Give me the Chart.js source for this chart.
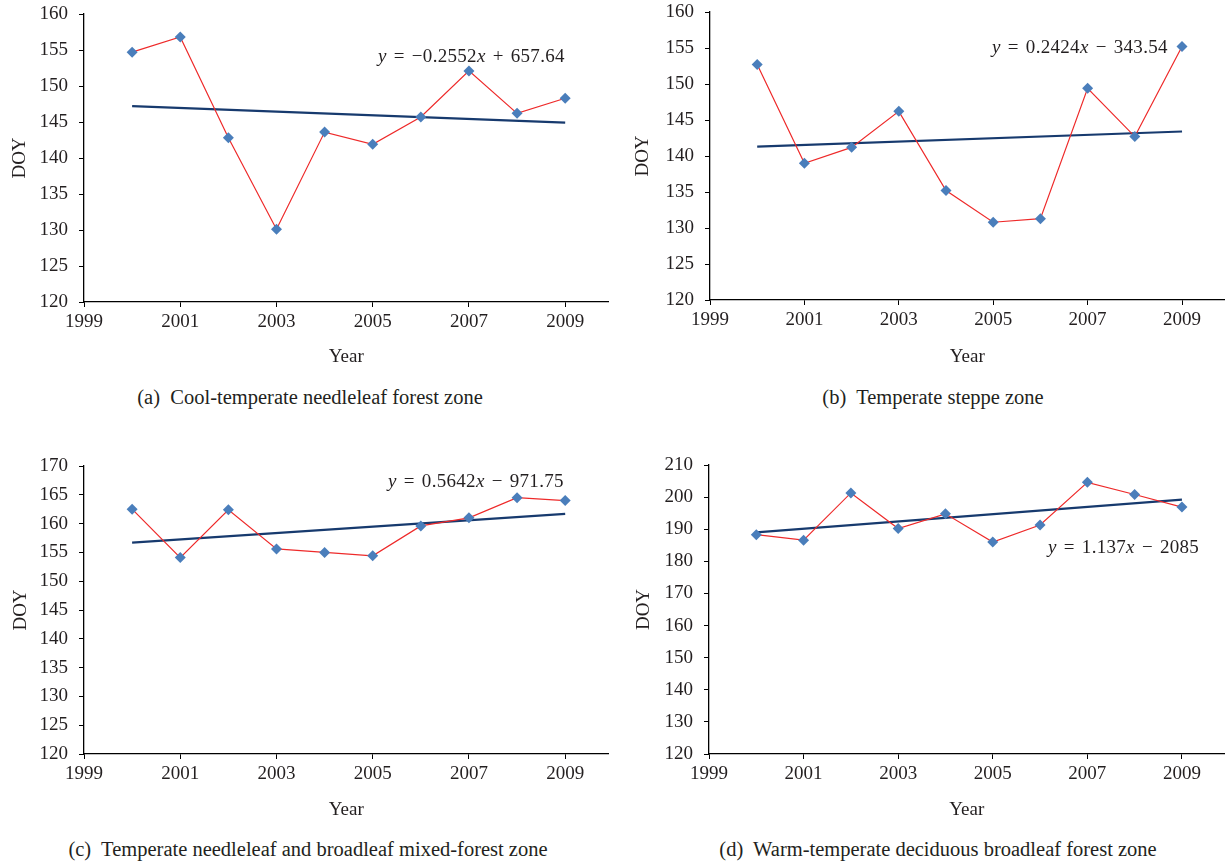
<!DOCTYPE html>
<html>
<head>
<meta charset="utf-8">
<title>DOY trends by vegetation zone</title>
<script src="https://cdn.jsdelivr.net/npm/chart.js@4.4.1/dist/chart.umd.min.js"></script>
<style>
  body { margin: 0; background: #fff; }
  #page { position: relative; width: 1230px; height: 866px; overflow: hidden; font-family: "Liberation Serif", "Times New Roman", serif; color: #231f20; }
  canvas { position: absolute; }
  .eq { position: absolute; font-size: 19px; line-height: 22px; white-space: nowrap; word-spacing: 2px; letter-spacing: 0.3px; }
  .caption { position: absolute; font-size: 20.5px; line-height: 22px; white-space: nowrap; transform: translateX(-50%); }
</style>
</head>
<body>
<div id="page">
  <canvas id="chartA" width="614" height="368" style="left:0;top:0"></canvas>
  <canvas id="chartB" width="610" height="368" style="left:620px;top:0"></canvas>
  <canvas id="chartC" width="614" height="368" style="left:0;top:453px"></canvas>
  <canvas id="chartD" width="610" height="368" style="left:620px;top:453px"></canvas>

  <div class="eq" style="left:378px;top:45px"><i>y</i> = −0.2552<i>x</i> + 657.64</div>
  <div class="eq" style="left:992px;top:36px"><i>y</i> = 0.2424<i>x</i> − 343.54</div>
  <div class="eq" style="left:388px;top:470px"><i>y</i> = 0.5642<i>x</i> − 971.75</div>
  <div class="eq" style="left:1048px;top:536px"><i>y</i> = 1.137<i>x</i> − 2085</div>

  <div class="caption" style="left:310px;top:386px">(a)&nbsp; Cool-temperate needleleaf forest zone</div>
  <div class="caption" style="left:933px;top:386px">(b)&nbsp; Temperate steppe zone</div>
  <div class="caption" style="left:308px;top:838px">(c)&nbsp; Temperate needleleaf and broadleaf mixed-forest zone</div>
  <div class="caption" style="left:938px;top:838px">(d)&nbsp; Warm-temperate deciduous broadleaf forest zone</div>
</div>

<script>
const years = [2000, 2001, 2002, 2003, 2004, 2005, 2006, 2007, 2008, 2009];

const doyA = [154.7, 156.8, 142.8, 130.1, 143.6, 141.9, 145.7, 152.1, 146.2, 148.3];
const doyB = [152.7, 139.0, 141.2, 146.2, 135.2, 130.8, 131.3, 149.4, 142.7, 155.2];
const doyC = [162.5, 154.1, 162.4, 155.6, 155.0, 154.4, 159.6, 161.0, 164.5, 164.0];
const doyD = [188.3, 186.6, 201.3, 190.2, 194.8, 186.0, 191.3, 204.6, 200.8, 196.9];

// trend line end points (2000 and 2009)
const trendYears = [2000, 2009];
const trendA = [147.2, 144.9];
const trendB = [141.3, 143.4];
const trendC = [156.7, 161.7];
const trendD = [189.0, 199.2];

const xTicks = [1999, 2001, 2003, 2005, 2007, 2009];
const yTicks160 = [120, 125, 130, 135, 140, 145, 150, 155, 160];
const yTicks170 = [120, 125, 130, 135, 140, 145, 150, 155, 160, 165, 170];
const yTicks210 = [120, 130, 140, 150, 160, 170, 180, 190, 200, 210];

const textColor = "#231f20";
const fontFamily = "'Liberation Serif', 'Times New Roman', serif";

function toPoints(xs, ys) {
  return xs.map((x, i) => ({ x: x, y: ys[i] }));
}

function makeChart(id, doy, trend, yTicks, p) {
  const ctx = document.getElementById(id).getContext("2d");
  return new Chart(ctx, {
    type: "scatter",
    data: {
      datasets: [
        {
          data: toPoints(years, doy),
          showLine: true,
          borderColor: "#ee2a2a",
          borderWidth: 1.2,
          pointStyle: "rectRot",
          pointRadius: 5.5,
          pointBackgroundColor: "#4a7ebb",
          pointBorderWidth: 0,
          order: 0
        },
        {
          data: toPoints(trendYears, trend),
          showLine: true,
          borderColor: "#173a6e",
          borderWidth: 2.2,
          pointRadius: 0,
          order: 1
        }
      ]
    },
    options: {
      responsive: false,
      animation: false,
      events: [],
      layout: { padding: { top: p.padTop, right: 0, bottom: 0, left: 0 } },
      plugins: {
        legend: { display: false },
        tooltip: { enabled: false }
      },
      scales: {
        x: {
          type: "linear",
          min: 1999,
          max: 2009.9,
          afterBuildTicks: s => { s.ticks = xTicks.map(v => ({ value: v })); },
          afterFit: s => { s.height = p.xAxisH; },
          ticks: {
            color: textColor,
            font: { family: fontFamily, size: 19 },
            padding: 4,
            maxRotation: 0,
            autoSkip: false,
            callback: v => String(v)
          },
          grid: { drawOnChartArea: false, tickLength: 5, color: "#000", lineWidth: 1 },
          border: { color: "#000", width: 1.3 },
          title: { display: true, text: "Year", color: textColor, font: { family: fontFamily, size: 19 }, padding: { top: 0, bottom: 0 } }
        },
        y: {
          type: "linear",
          min: yTicks[0],
          max: yTicks[yTicks.length - 1],
          afterBuildTicks: s => { s.ticks = yTicks.map(v => ({ value: v })); },
          afterFit: s => {
            s.width = p.yAxisW;
            s.paddingTop = 0;
            s.paddingBottom = 0;
          },
          ticks: { color: textColor, font: { family: fontFamily, size: 19 }, padding: 11 },
          grid: { drawOnChartArea: false, tickLength: 5, color: "#000", lineWidth: 1 },
          border: { color: "#000", width: 1.3 },
          title: { display: true, text: "DOY", color: textColor, font: { family: fontFamily, size: 19 }, padding: { top: p.titlePad, bottom: 0 } }
        }
      }
    }
  });
}

makeChart("chartA", doyA, trendA, yTicks160, { padTop: 14, xAxisH: 66, yAxisW: 84, titlePad: 9 });
makeChart("chartB", doyB, trendB, yTicks160, { padTop: 12, xAxisH: 68, yAxisW: 90, titlePad: 12 });
makeChart("chartC", doyC, trendC, yTicks170, { padTop: 13, xAxisH: 67, yAxisW: 84, titlePad: 10 });
makeChart("chartD", doyD, trendD, yTicks210, { padTop: 12, xAxisH: 67, yAxisW: 89, titlePad: 13 });
</script>
</body>
</html>
